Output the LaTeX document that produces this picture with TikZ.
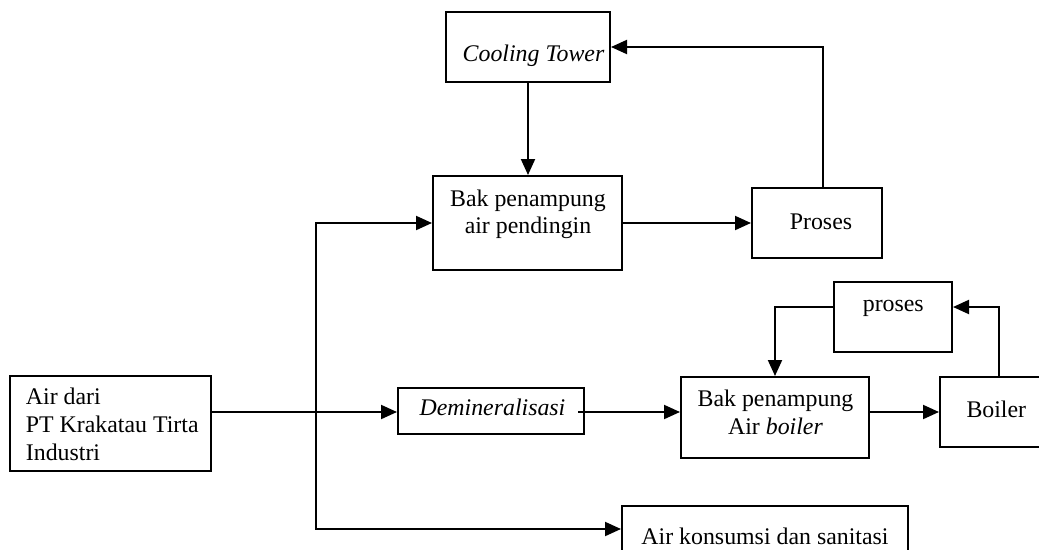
\documentclass[tikz,border=0pt]{standalone}
\usepackage{fontspec}
\setmainfont{Liberation Serif}
\usetikzlibrary{arrows.meta}
\tikzset{
  box/.style={draw, line width=2pt, rectangle, inner sep=0pt, anchor=center},
  txt/.style={inner sep=0pt, anchor=base, font=\fontsize{23.85}{27.5}\selectfont},
  txtl/.style={txt, anchor=base west},
  conn/.style={line width=2pt, -{Triangle[length=16pt,width=14pt]}},
  plain/.style={line width=2pt}
}
\begin{document}
\begin{tikzpicture}[x=1pt,y=-1pt]
\fill[white] (0,0) rectangle (1039,549);
\useasboundingbox (0,0) rectangle (1039,549);

% boxes
\node[box, minimum width=164pt, minimum height=70pt] (ct) at (528,47) {};
\node[box, minimum width=189pt, minimum height=94pt] (bakp) at (527.5,223) {};
\node[box, minimum width=130pt, minimum height=70pt] (pros) at (817,223) {};
\node[box, minimum width=201pt, minimum height=95pt] (air) at (110.5,423.5) {};
\node[box, minimum width=186pt, minimum height=46pt] (demin) at (491,411) {};
\node[box, minimum width=188pt, minimum height=81pt] (bakb) at (775,417.5) {};
\node[box, minimum width=112pt, minimum height=70pt] (boil) at (996,412) {};
\node[box, minimum width=118pt, minimum height=70pt] (prs2) at (893,317) {};
\node[box, minimum width=286pt, minimum height=46pt] (kons) at (765,529) {};

% texts
\node[txt] (tct) at (533.5,61) {\textit{Cooling Tower}};
\node[txt] (tbakp1) at (528,206) {Bak penampung};
\node[txt] (tbakp2) at (528,233.3) {air pendingin};
\node[txt] (tpros) at (821,229) {Proses};
\node[txtl] (tair1) at (25.7,404.3) {Air dari};
\node[txtl] (tair2) at (25.7,432.3) {PT Krakatau Tirta};
\node[txtl] (tair3) at (25.7,460) {Industri};
\node[txt] (tdemin) at (492.5,415) {\textit{Demineralisasi}};
\node[txt] (tbakb1) at (775.5,406.7) {Bak penampung};
\node[txt] (tbakb2) at (775.5,434.3) {Air \textit{boiler}};
\node[txt] (tboil) at (996.3,417.3) {Boiler};
\node[txt] (tprs2) at (893.3,311.7) {proses};
\node[txt] (tkons) at (765,544) {Air konsumsi dan sanitasi};

% connectors
\draw[conn] (ct.south) -- (ct.south |- bakp.north);
\draw[conn] ([xshift=6pt]pros.north) |- (ct.east);
\draw[conn] (bakp.east) -- (pros.west);

\coordinate (split) at (316,412);
\draw[plain] (air.east |- split) -- (split);
\draw[plain] (split |- bakp.west) -- (split |- kons.west);
\draw[conn] (split) -- (split -| demin.west);
\draw[conn] (split) |- (bakp.west);
\draw[conn] (split) |- (kons.west);

\draw[conn] ([xshift=-7pt]demin.east |- split) -- (bakb.west |- split);
\draw[conn] (bakb.east |- boil.west) -- (boil.west);
\draw[conn] ([xshift=3pt]boil.north) |- ([yshift=10pt]prs2.east);
\draw[conn] ([yshift=10pt]prs2.west) -| (bakb.north);
\end{tikzpicture}
\end{document}
